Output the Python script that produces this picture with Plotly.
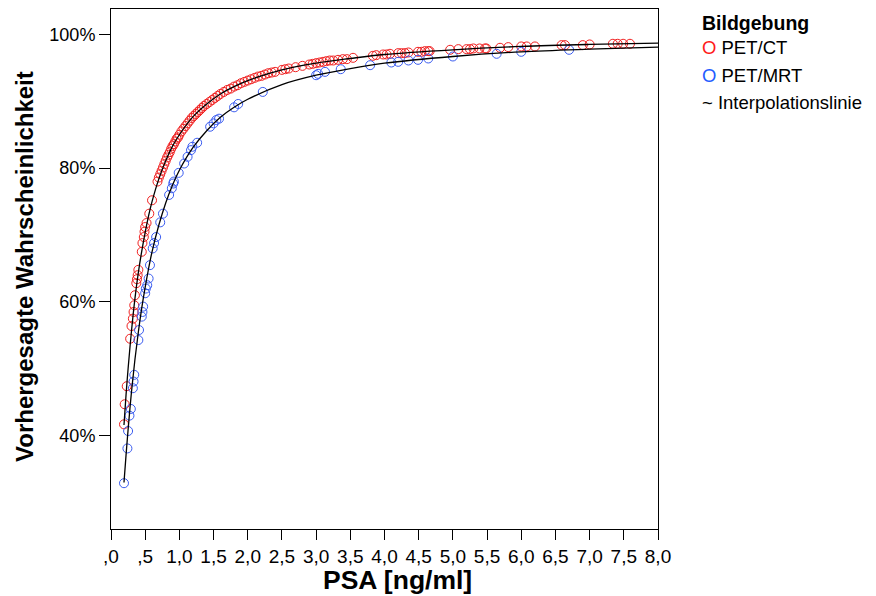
"""Predicted probability vs. PSA for PET/CT and PET/MRT, SPSS-style scatter."""
import plotly.graph_objects as go

FONT = "Liberation Sans, Arial, sans-serif"

X_TICKS = [0.0, 0.5, 1.0, 1.5, 2.0, 2.5, 3.0, 3.5, 4.0, 4.5, 5.0, 5.5, 6.0, 6.5, 7.0, 7.5, 8.0]
X_TICK_LABELS = [",0", ",5", "1,0", "1,5", "2,0", "2,5", "3,0", "3,5", "4,0", "4,5",
                 "5,0", "5,5", "6,0", "6,5", "7,0", "7,5", "8,0"]
Y_TICKS = [40, 60, 80, 100]
Y_TICK_LABELS = ["40%", "60%", "80%", "100%"]

# PET/CT cases: PSA [ng/ml] and predicted probability [%]
CT_PSA = [
    0.19, 0.20, 0.23, 0.28, 0.30, 0.32, 0.33, 0.34, 0.35, 0.37, 0.38, 0.39, 0.40,
    0.45, 0.46, 0.48, 0.49, 0.50, 0.52, 0.56, 0.60,
    0.68, 0.70, 0.72, 0.74, 0.76, 0.78, 0.80, 0.82, 0.84, 0.86, 0.88, 0.90, 0.92,
    0.94, 0.96, 0.98, 1.00, 1.03, 1.06, 1.09, 1.12, 1.15, 1.18, 1.21, 1.24, 1.27,
    1.30, 1.33, 1.36, 1.40, 1.44, 1.48, 1.52, 1.56, 1.60, 1.65, 1.70, 1.75, 1.80,
    1.85, 1.90, 1.95, 2.00, 2.05, 2.10, 2.15, 2.20, 2.25, 2.30, 2.35, 2.40, 2.50,
    2.55, 2.60, 2.70, 2.80, 2.90, 2.95, 3.00, 3.05, 3.10, 3.15, 3.20, 3.25, 3.32,
    3.39, 3.45, 3.54, 3.83, 3.88, 3.98, 4.03, 4.08, 4.20, 4.25, 4.30, 4.35, 4.49,
    4.54, 4.59, 4.64, 4.66, 4.96, 5.08, 5.20, 5.25, 5.30, 5.39, 5.47, 5.49, 5.69,
    5.81, 6.00, 6.08, 6.20, 6.59, 6.64, 6.90, 7.00, 7.34, 7.41, 7.49, 7.59,
]
CT_PROB = [
    41.7, 44.7, 47.4, 54.5, 56.4, 57.5, 58.5, 59.5, 61.0, 62.8, 63.4, 64.0, 64.8,
    67.5, 68.8, 69.7, 70.5, 71.2, 71.8, 73.2, 75.2,
    78.0, 78.6, 79.1, 79.6, 80.1, 80.6, 81.1, 81.6, 82.0, 82.4, 82.9, 83.3, 83.6,
    84.0, 84.4, 84.6, 85.0, 85.5, 85.9, 86.3, 86.7, 87.1, 87.5, 87.8, 88.1, 88.4,
    88.7, 89.0, 89.3, 89.6, 89.9, 90.2, 90.5, 90.8, 91.1, 91.4, 91.7, 91.9, 92.2,
    92.4, 92.7, 92.9, 93.1, 93.3, 93.5, 93.7, 93.8, 94.0, 94.2, 94.3, 94.4, 94.7,
    94.8, 94.9, 95.1, 95.3, 95.5, 95.6, 95.7, 95.8, 95.9, 96.0, 96.1, 96.1, 96.2,
    96.3, 96.3, 96.5, 96.8, 96.9, 97.0, 97.0, 97.1, 97.2, 97.2, 97.2, 97.3, 97.4,
    97.4, 97.5, 97.5, 97.5, 97.7, 97.8, 97.8, 97.8, 97.9, 97.9, 97.9, 97.9, 98.0,
    98.1, 98.2, 98.2, 98.2, 98.4, 98.4, 98.4, 98.5, 98.6, 98.6, 98.6, 98.6,
]

# PET/MRT cases
MRT_PSA = [
    0.19, 0.24, 0.25, 0.27, 0.29, 0.32, 0.33, 0.34, 0.40, 0.41, 0.45, 0.46, 0.47,
    0.50, 0.51, 0.53, 0.55, 0.57, 0.61, 0.63, 0.66, 0.72, 0.76, 0.85, 0.89, 0.91,
    0.92, 0.99, 1.07, 1.12, 1.17, 1.19, 1.26, 1.45, 1.50, 1.54, 1.58, 1.80, 1.86,
    2.22, 3.00, 3.03, 3.13, 3.36, 3.79, 4.10, 4.20, 4.35, 4.49, 4.64, 5.00, 5.64,
    6.00, 6.70,
]
MRT_PROB = [
    32.9, 38.1, 40.7, 43.0, 44.0, 47.1, 48.1, 49.1, 54.3, 55.8, 57.8, 58.5, 59.3,
    61.3, 62.0, 62.5, 63.5, 65.5, 68.0, 68.8, 69.7, 71.9, 73.2, 76.0, 77.0, 77.7,
    78.0, 79.3, 80.7, 81.7, 82.7, 83.2, 83.8, 86.2, 86.7, 87.2, 87.4, 89.1, 89.6,
    91.4, 93.9, 94.1, 94.4, 94.8, 95.4, 95.8, 95.9, 96.1, 96.2, 96.4, 96.7, 97.1,
    97.4, 97.7,
]

# interpolation lines
CT_LINE_PSA = [0.19, 0.22, 0.25, 0.30, 0.35, 0.40, 0.45, 0.50, 0.55, 0.60, 0.70, 0.80,
               0.90, 1.00, 1.20, 1.40, 1.60, 1.80, 2.00, 2.50, 3.00, 3.50, 4.00, 5.00,
               6.00, 7.00, 8.00]
CT_LINE_PROB = [41.6, 46.1, 50.0, 55.7, 60.5, 64.4, 67.6, 70.4, 72.9, 75.0, 78.4, 81.1,
                83.3, 85.0, 87.7, 89.6, 91.1, 92.2, 93.1, 94.7, 95.7, 96.4, 97.0, 97.7,
                98.2, 98.5, 98.7]
MRT_LINE_PSA = [0.19, 0.22, 0.25, 0.30, 0.35, 0.40, 0.45, 0.50, 0.55, 0.60, 0.70, 0.80,
                0.90, 1.00, 1.20, 1.40, 1.60, 1.80, 2.00, 2.50, 3.00, 3.50, 4.00, 5.00,
                6.00, 7.00, 8.00]
MRT_LINE_PROB = [33.0, 37.1, 40.9, 46.6, 51.4, 55.5, 59.1, 62.2, 65.0, 67.5, 71.5, 74.8,
                 77.5, 79.7, 83.1, 85.6, 87.6, 89.1, 90.3, 92.5, 93.9, 94.9, 95.7, 96.7,
                 97.4, 97.8, 98.1]

CT_COLOR = "#f02020"
MRT_COLOR = "#3a5cf0"

# the page body has an 8px margin, so the figure is a bit smaller than the window
PAGE_PAD = 8
W, H = 876 - PAGE_PAD, 596 - PAGE_PAD
# plot box in window pixels
PLOT_L, PLOT_R, PLOT_T, PLOT_B = 111, 658, 9, 529


def px_x(px):
    return (px - PLOT_L) / (PLOT_R - PLOT_L)


def px_y(py):
    return (PLOT_B - py) / (PLOT_B - PLOT_T)


def add_points(fig, x, y, color):
    fig.add_trace(
        go.Scatter(
            x=x, y=y, mode="markers", showlegend=False,
            marker=dict(symbol="circle-open", size=9, color=color, line=dict(width=1, color=color)),
        )
    )


def add_line(fig, x, y):
    fig.add_trace(
        go.Scatter(
            x=x, y=y, mode="lines", showlegend=False,
            line=dict(color="black", width=1.3, shape="spline"),
        )
    )


fig = go.Figure()
add_points(fig, CT_PSA, CT_PROB, CT_COLOR)
add_points(fig, MRT_PSA, MRT_PROB, MRT_COLOR)
add_line(fig, CT_LINE_PSA, CT_LINE_PROB)
add_line(fig, MRT_LINE_PSA, MRT_LINE_PROB)

axis_common = dict(
    showline=True, linecolor="black", linewidth=1, mirror=True,
    ticks="outside", tickcolor="black", tickwidth=1,
    showgrid=False, zeroline=False,
)
fig.update_xaxes(range=[0, 8], tickvals=X_TICKS, ticktext=X_TICK_LABELS, ticklen=10,
                 tickfont=dict(family=FONT, size=19, color="black"), **axis_common)
fig.update_yaxes(range=[26.05, 103.8], tickvals=Y_TICKS, ticktext=Y_TICK_LABELS, ticklen=11,
                 tickfont=dict(family=FONT, size=18, color="black"), **axis_common)

legend_rows = [
    ("<b>Bildgebung</b>", 23, 19.5),
    ("<span style='color:#ff1a1a'>O</span> PET/CT", 48, 18.5),
    ("<span style='color:#1f5cff'>O</span> PET/MRT", 75, 18.5),
    ("~ Interpolationslinie", 102, 18.5),
]
annotations = [
    dict(text=txt, x=px_x(700), y=px_y(py), xref="paper", yref="paper",
         xanchor="left", yanchor="middle", showarrow=False,
         font=dict(family=FONT, size=size, color="black"))
    for txt, py, size in legend_rows
]
annotations.append(dict(
    text="<b>PSA [ng/ml]</b>", x=px_x(397), y=px_y(580), xref="paper", yref="paper",
    xanchor="center", yanchor="middle", showarrow=False,
    font=dict(family=FONT, size=26.5, color="black"),
))
annotations.append(dict(
    text="<b>Vorhergesagte Wahrscheinlichkeit</b>", x=px_x(24), y=px_y(267),
    xref="paper", yref="paper", xanchor="center", yanchor="middle",
    textangle=-90, showarrow=False,
    font=dict(family=FONT, size=24, color="black"),
))

fig.update_layout(
    width=W, height=H,
    margin=dict(l=PLOT_L - PAGE_PAD, r=876 - PLOT_R, t=PLOT_T - PAGE_PAD, b=596 - PLOT_B),
    plot_bgcolor="white", paper_bgcolor="white",
    annotations=annotations,
    showlegend=False,
)

fig.write_html("out.html")
